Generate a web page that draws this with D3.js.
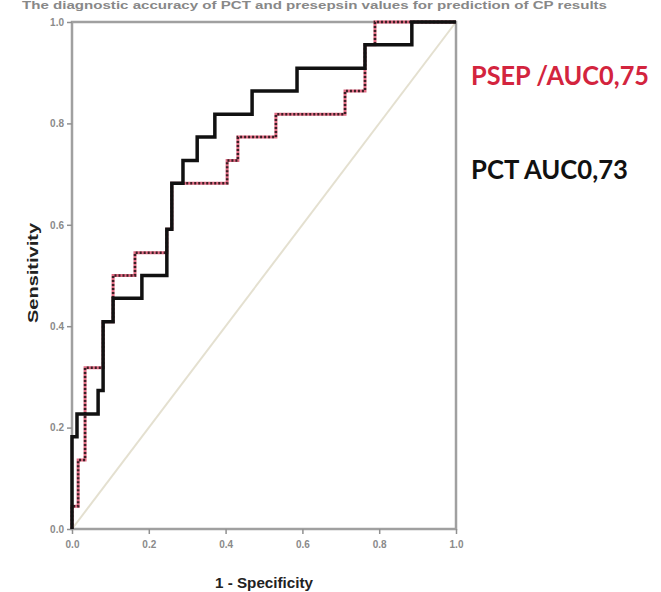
<!DOCTYPE html>
<html><head><meta charset="utf-8">
<script src="https://cdn.jsdelivr.net/npm/d3@7"></script>
<style>html,body{margin:0;padding:0;background:#fff;overflow:hidden}</style>
</head><body>
<svg id="chart" width="661" height="592"></svg>
<script>
// ROC vertices (1 - specificity, sensitivity)
const pctFpr  = [0,0,0.013,0.013,0.068,0.068,0.081,0.081,0.107,0.107,0.182,0.182,0.247,0.247,0.26,0.26,0.289,0.289,0.326,0.326,0.372,0.372,0.469,0.469,0.586,0.586,0.763,0.763,0.885,0.885,1];
const pctTpr  = [0,0.182,0.182,0.227,0.227,0.273,0.273,0.409,0.409,0.455,0.455,0.5,0.5,0.591,0.591,0.682,0.682,0.727,0.727,0.773,0.773,0.818,0.818,0.864,0.864,0.909,0.909,0.955,0.955,1,1];
const psepFpr = [0,0,0.016,0.016,0.034,0.034,0.081,0.081,0.107,0.107,0.164,0.164,0.247,0.247,0.26,0.26,0.404,0.404,0.432,0.432,0.531,0.531,0.711,0.711,0.763,0.763,0.789,0.789,1];
const psepTpr = [0,0.045,0.045,0.136,0.136,0.318,0.318,0.409,0.409,0.5,0.5,0.545,0.545,0.591,0.591,0.682,0.682,0.727,0.727,0.773,0.773,0.818,0.818,0.864,0.864,0.955,0.955,1,1];
const ticks = [0, 0.2, 0.4, 0.6, 0.8, 1.0];
const titleText = "The diagnostic accuracy of PCT and presepsin values for prediction of CP results";
const seriesLabels = ["PSEP /AUC0,75", "PCT AUC0,73"];

const svg = d3.select("#chart");
const m = {left:72, top:22, right:205, bottom:63};
const W = 661, H = 592;
const x = d3.scaleLinear().domain([0,1]).range([m.left, W - m.right]);
const y = d3.scaleLinear().domain([0,1]).range([H - m.bottom, m.top]);
const FONT = "Arial, Liberation Sans, sans-serif";

// title
svg.append("text").attr("x", 22).attr("y", 9).attr("textLength", 585).attr("lengthAdjust", "spacingAndGlyphs")
  .attr("font-family", FONT).attr("font-size", 10.5)
  .attr("font-weight", "bold").attr("fill", "#888").text(titleText);

// diagonal reference
svg.append("line").attr("x1", x(0)).attr("y1", y(0)).attr("x2", x(1)).attr("y2", y(1))
  .attr("stroke", "#e4e0d0").attr("stroke-width", 2);

// frame
svg.append("rect").attr("x", x(0)).attr("y", y(1)).attr("width", x(1)-x(0)).attr("height", y(0)-y(1))
  .attr("fill", "none").attr("stroke", "#a0a0a0").attr("stroke-width", 2.5);

// axes
const xAxis = d3.axisBottom(x).tickValues(ticks).tickFormat(d3.format(".1f")).tickSize(5).tickSizeOuter(0);
const yAxis = d3.axisLeft(y).tickValues(ticks).tickFormat(d3.format(".1f")).tickSize(5).tickSizeOuter(0);
const gx = svg.append("g").attr("transform", `translate(0,${y(0)})`).call(xAxis);
const gy = svg.append("g").attr("transform", `translate(${x(0)},0)`).call(yAxis);
[gx, gy].forEach(g => {
  g.select(".domain").remove();
  g.selectAll("line").attr("stroke", "#909090").attr("stroke-width", 1.5);
  g.selectAll("text").attr("fill", "#8a8a8a").attr("font-size", 10).attr("font-weight", "bold")
    .attr("font-family", FONT);
});
gx.selectAll("text").attr("dy", "1.1em");

const line = d3.line().x(d => x(d[0])).y(d => y(d[1]));
const psep = psepFpr.map((v,i) => [v, psepTpr[i]]);
const pct = pctFpr.map((v,i) => [v, pctTpr[i]]);

// PSEP: red with dark dotted overlay
svg.append("path").attr("d", line(psep)).attr("fill", "none")
  .attr("stroke", "#d9506c").attr("stroke-width", 3).attr("opacity", 0.85);
svg.append("path").attr("d", line(psep)).attr("fill", "none")
  .attr("stroke", "#3a1f25").attr("stroke-width", 2.5).attr("stroke-dasharray", "2,2");

// PCT: black solid
svg.append("path").attr("d", line(pct)).attr("fill", "none")
  .attr("stroke", "#111").attr("stroke-width", 3.5).attr("stroke-linejoin", "miter");

// axis titles
svg.append("text").attr("transform", "translate(38,273) rotate(-90)").attr("text-anchor", "middle")
  .attr("textLength", 100).attr("lengthAdjust", "spacingAndGlyphs").attr("font-family", FONT)
  .attr("font-size", 15).attr("font-weight", "bold").attr("fill", "#222").text("Sensitivity");
svg.append("text").attr("x", 264).attr("y", 588).attr("text-anchor", "middle")
  .attr("textLength", 98).attr("lengthAdjust", "spacingAndGlyphs").attr("font-family", FONT)
  .attr("font-size", 15).attr("font-weight", "bold").attr("fill", "#222").text("1 - Specificity");

// AUC labels
svg.append("text").attr("x", 471).attr("y", 85).attr("textLength", 178).attr("lengthAdjust", "spacingAndGlyphs")
  .attr("font-family", "Lato, sans-serif").attr("font-size", 27).attr("font-weight", "bold")
  .attr("fill", "#d3243e").text(seriesLabels[0]);
svg.append("text").attr("x", 471).attr("y", 179).attr("textLength", 157).attr("lengthAdjust", "spacingAndGlyphs")
  .attr("font-family", "Lato, sans-serif").attr("font-size", 27).attr("font-weight", "bold")
  .attr("fill", "#111").text(seriesLabels[1]);
</script>
</body></html>
